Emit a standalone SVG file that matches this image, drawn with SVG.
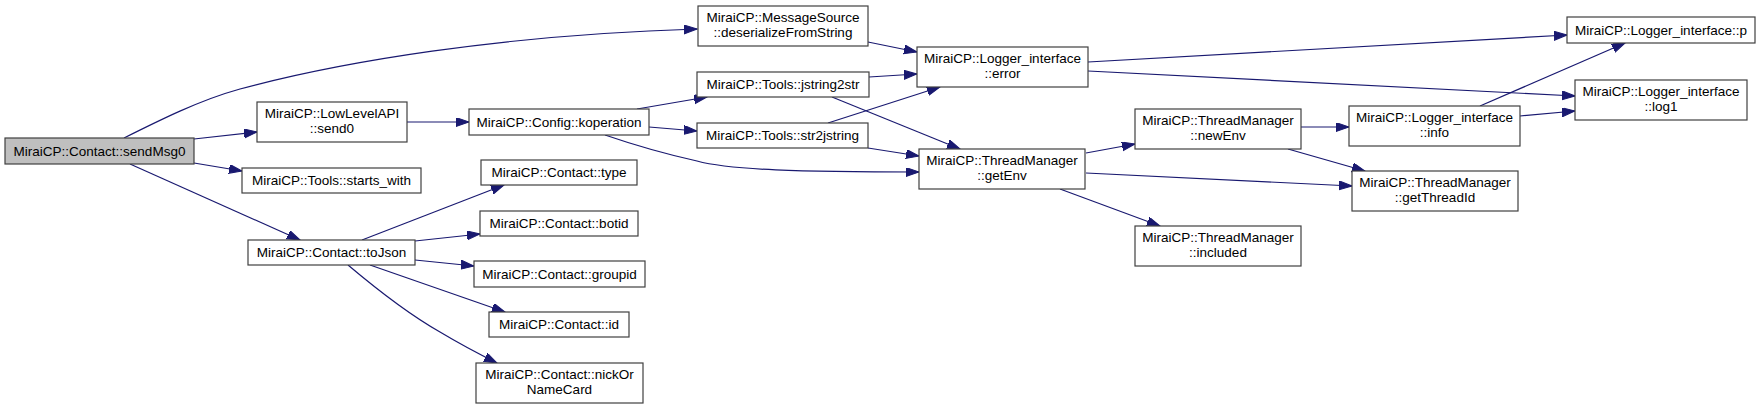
<svg xmlns="http://www.w3.org/2000/svg" width="1760" height="409" viewBox="0 0 1760 409">
<style>
  .node rect { fill: #ffffff; stroke: #404040; stroke-width: 1.2; }
  .node.root rect { fill: #bfbfbf; }
  .node text { font-family: "Liberation Sans", Arial, sans-serif; font-size: 13.5px; fill: #000000; text-anchor: middle; }
  .edges path { fill: none; stroke: #191970; stroke-width: 1.2; marker-end: url(#arrow); }
</style>
<defs>
  <marker id="arrow" markerUnits="userSpaceOnUse" markerWidth="14" markerHeight="11" refX="13" refY="4.5" orient="auto">
    <path d="M0,0 L13,4.5 L0,9 z" fill="#191970" stroke="#191970" stroke-width="1"/>
  </marker>
</defs>
<rect width="1760" height="409" fill="#ffffff"/>

<g class="edges" id="edges">
  <path d="M124,138 C160,120 200,100 240,89 C340,62 500,35 697,29"/>
  <path d="M194,139 L257,132"/>
  <path d="M194,163 L242,171"/>
  <path d="M130,164 L300,240"/>
  <path d="M407,122 L469,122"/>
  <path d="M637,109 L707,97"/>
  <path d="M649,127 L697,131"/>
  <path d="M605,135 C640,147 670,155 697,161 C730,170 800,172 919,172"/>
  <path d="M868,42 L917,52"/>
  <path d="M869,77 L917,74"/>
  <path d="M832,97 L960,149"/>
  <path d="M828,123 L940,87"/>
  <path d="M868,148 L919,156"/>
  <path d="M1088,62 L1567,35"/>
  <path d="M1088,71 L1575,96"/>
  <path d="M1086,153 L1135,144"/>
  <path d="M1086,173 L1352,186"/>
  <path d="M1060,189 L1160,226"/>
  <path d="M1301,127 L1349,127"/>
  <path d="M1288,149 L1365,171"/>
  <path d="M1480,106 L1625,43"/>
  <path d="M1520,116 L1575,111"/>
  <path d="M362,240 L504,185"/>
  <path d="M415,241 L480,234"/>
  <path d="M415,260 L474,266"/>
  <path d="M370,265 L505,312"/>
  <path d="M348,265 C380,292 410,315 440,332 C460,344 475,352 497,363"/>
</g>

<g class="node root" id="sendMsg0"><rect x="5" y="138" width="189" height="26"/><text x="99.5" y="155.5">MiraiCP::Contact::sendMsg0</text></g>
<g class="node" id="send0"><rect x="257" y="102" width="150" height="40"/><text x="332" y="118">MiraiCP::LowLevelAPI</text><text x="332" y="133">::send0</text></g>
<g class="node" id="starts_with"><rect x="242" y="168" width="179" height="25"/><text x="331.5" y="185">MiraiCP::Tools::starts_with</text></g>
<g class="node" id="toJson"><rect x="248" y="240" width="167" height="25"/><text x="331.5" y="257">MiraiCP::Contact::toJson</text></g>
<g class="node" id="deserializeFromString"><rect x="698" y="6" width="170" height="40"/><text x="783" y="22">MiraiCP::MessageSource</text><text x="783" y="37">::deserializeFromString</text></g>
<g class="node" id="koperation"><rect x="469" y="109" width="180" height="26"/><text x="559" y="126.5">MiraiCP::Config::koperation</text></g>
<g class="node" id="jstring2str"><rect x="697" y="72" width="172" height="25"/><text x="783" y="89">MiraiCP::Tools::jstring2str</text></g>
<g class="node" id="str2jstring"><rect x="697" y="123" width="171" height="25"/><text x="782.5" y="140">MiraiCP::Tools::str2jstring</text></g>
<g class="node" id="type"><rect x="481" y="160" width="156" height="25"/><text x="559" y="177">MiraiCP::Contact::type</text></g>
<g class="node" id="botid"><rect x="480" y="211" width="158" height="25"/><text x="559" y="228">MiraiCP::Contact::botid</text></g>
<g class="node" id="groupid"><rect x="474" y="261" width="171" height="26"/><text x="559.5" y="278.5">MiraiCP::Contact::groupid</text></g>
<g class="node" id="id"><rect x="489" y="312" width="140" height="25"/><text x="559" y="329">MiraiCP::Contact::id</text></g>
<g class="node" id="nickOrNameCard"><rect x="476" y="363" width="167" height="40"/><text x="559.5" y="379">MiraiCP::Contact::nickOr</text><text x="559.5" y="394">NameCard</text></g>
<g class="node" id="error"><rect x="917" y="47" width="171" height="40"/><text x="1002.5" y="63">MiraiCP::Logger_interface</text><text x="1002.5" y="78">::error</text></g>
<g class="node" id="getEnv"><rect x="919" y="149" width="166" height="40"/><text x="1002" y="165">MiraiCP::ThreadManager</text><text x="1002" y="180">::getEnv</text></g>
<g class="node" id="newEnv"><rect x="1135" y="109" width="166" height="40"/><text x="1218" y="125">MiraiCP::ThreadManager</text><text x="1218" y="140">::newEnv</text></g>
<g class="node" id="included"><rect x="1135" y="226" width="166" height="40"/><text x="1218" y="242">MiraiCP::ThreadManager</text><text x="1218" y="257">::included</text></g>
<g class="node" id="p"><rect x="1567" y="17" width="188" height="26"/><text x="1661" y="34.5">MiraiCP::Logger_interface::p</text></g>
<g class="node" id="log1"><rect x="1575" y="80" width="172" height="40"/><text x="1661" y="96">MiraiCP::Logger_interface</text><text x="1661" y="111">::log1</text></g>
<g class="node" id="info"><rect x="1349" y="106" width="171" height="40"/><text x="1434.5" y="122">MiraiCP::Logger_interface</text><text x="1434.5" y="137">::info</text></g>
<g class="node" id="getThreadId"><rect x="1352" y="171" width="166" height="40"/><text x="1435" y="187">MiraiCP::ThreadManager</text><text x="1435" y="202">::getThreadId</text></g>
</svg>
